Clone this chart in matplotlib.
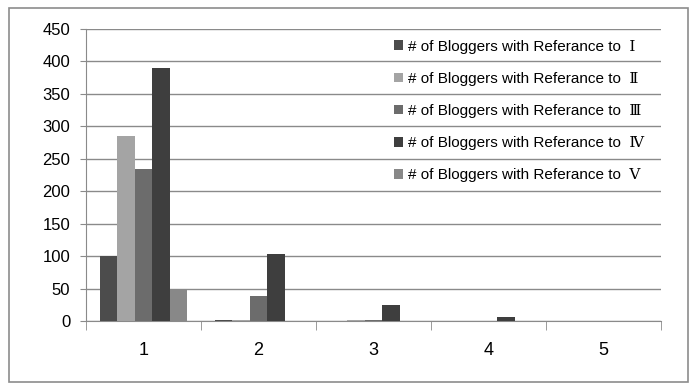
import matplotlib
matplotlib.use("Agg")
import matplotlib.pyplot as plt
import matplotlib.patches as mpatches
import numpy as np

groups = ["1", "2", "3", "4", "5"]
series_names = [
    "# of Bloggers with Referance to  \u2160",
    "# of Bloggers with Referance to  \u2161",
    "# of Bloggers with Referance to  \u2162",
    "# of Bloggers with Referance to  \u2163",
    "# of Bloggers with Referance to  \u2164",
]
ref_1 = [100, 2, 0, 0, 0]
ref_2 = [285, 1, 1, 0, 0]
ref_3 = [235, 38, 1, 0, 0]
ref_4 = [390, 104, 25, 6, 0]
ref_5 = [50, 0, 0, 0, 0]
colors = ["#4c4c4c", "#a4a4a4", "#6c6c6c", "#3e3e3e", "#888888"]

fig = plt.figure(figsize=(6.89, 3.83), dpi=100)
ax = fig.add_axes([86 / 689, 1 - 321 / 383, 575 / 689, 292 / 383])

# outer chart border
fig.patches.append(mpatches.Rectangle((9 / 689, 1 - 382 / 383), 679 / 689, 374 / 383,
                                      transform=fig.transFigure, fill=False,
                                      edgecolor="#8c8c8c", lw=1.2))

x = np.arange(1, len(groups) + 1)
w = 0.152
for i, (vals, name) in enumerate(zip([ref_1, ref_2, ref_3, ref_4, ref_5], series_names)):
    ax.bar(x + (i - 2) * w, vals, width=w, color=colors[i], label=name, zorder=3)

ax.set_xlim(0.5, 5.5)
ax.set_ylim(0, 450)
ax.set_yticks(range(0, 451, 50))
ax.set_xticks(x)
ax.set_xticklabels(groups)
ax.set_xticks(np.arange(0.5, 5.6, 1), minor=True)

ax.yaxis.grid(True, color="#8a8a8a", lw=1, zorder=0)
for s in ["top", "right"]:
    ax.spines[s].set_visible(False)
for s in ["left", "bottom"]:
    ax.spines[s].set_color("#8a8a8a")

ax.tick_params(axis="y", length=4.3, color="#8a8a8a", pad=7, labelsize=12)
ax.tick_params(axis="x", which="major", length=0, pad=15, labelsize=13)
ax.tick_params(axis="x", which="minor", length=6.5, color="#8a8a8a")
for lab in ax.get_xticklabels() + ax.get_yticklabels():
    lab.set_family("Liberation Sans")

leg = ax.legend(loc="upper left", bbox_to_anchor=(300 / 575, 1 - 3 / 292),
                frameon=False, handlelength=0.6, handleheight=0.6,
                handletextpad=0.35, labelspacing=1.19, borderpad=0,
                prop={"family": ["Liberation Sans", "DejaVu Serif"], "size": 11})

fig.savefig("out.png", dpi=100)
